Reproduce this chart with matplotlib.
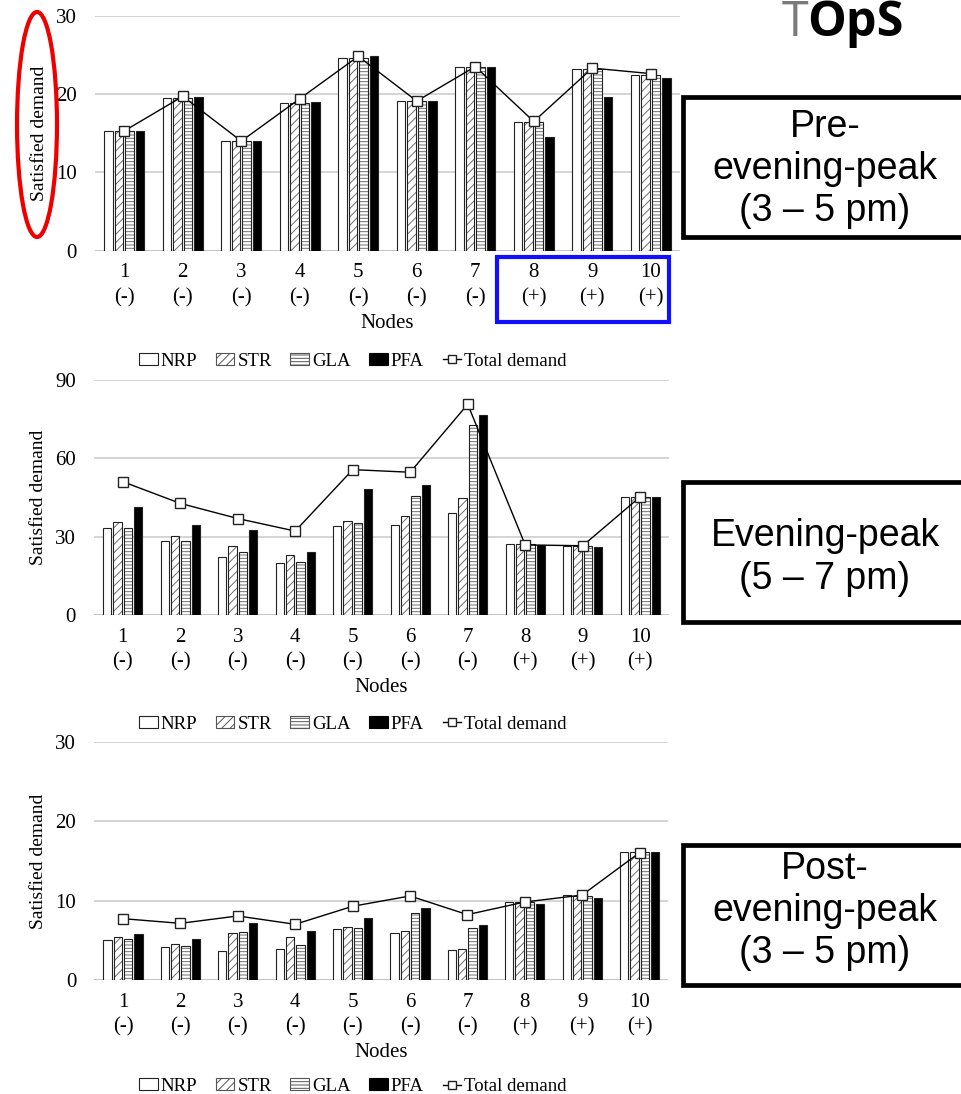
import matplotlib
matplotlib.use("Agg")
import matplotlib.pyplot as plt
import numpy as np
from matplotlib.patches import Patch, Rectangle, Ellipse
from matplotlib.lines import Line2D

plt.rcParams["font.family"] = ["Liberation Serif", "DejaVu Serif"]
plt.rcParams["hatch.linewidth"] = 0.7

NODES = ["1\n(-)", "2\n(-)", "3\n(-)", "4\n(-)", "5\n(-)",
         "6\n(-)", "7\n(-)", "8\n(+)", "9\n(+)", "10\n(+)"]
SERIES = ["NRP", "STR", "GLA", "PFA"]

# pre-evening-peak
PRE_NRP = [15.3, 19.45, 14.0, 18.8, 24.55, 19.15, 23.45, 16.4, 23.2, 22.4]
PRE_STR = [15.3, 19.45, 14.0, 18.8, 24.55, 19.15, 23.45, 16.4, 23.2, 22.4]
PRE_GLA = [15.3, 19.45, 14.0, 18.8, 24.55, 19.15, 23.45, 16.4, 23.2, 22.4]
PRE_PFA = [15.3, 19.6, 14.0, 19.0, 24.8, 19.15, 23.45, 14.55, 19.6, 22.1]
PRE_TOTAL = [15.3, 19.7, 14.0, 19.4, 24.8, 19.1, 23.5, 16.5, 23.3, 22.6]

# evening-peak
EVE_NRP = [33.2, 28.5, 22.1, 20.1, 34.1, 34.7, 39.3, 27.1, 26.6, 45.1]
EVE_STR = [35.5, 30.5, 26.6, 22.9, 36.2, 37.8, 45.0, 27.1, 26.6, 45.1]
EVE_GLA = [33.4, 28.5, 24.3, 20.3, 35.1, 45.6, 72.6, 27.1, 26.6, 45.1]
EVE_PFA = [41.4, 34.6, 32.8, 24.3, 48.2, 49.8, 76.6, 26.9, 26.2, 45.1]
EVE_TOTAL = [51.1, 42.8, 37.0, 32.2, 55.7, 54.7, 80.7, 26.9, 26.6, 45.3]

# post-evening-peak
POST_NRP = [5.04, 4.2, 3.7, 3.87, 6.43, 5.88, 3.78, 9.79, 10.71, 16.09]
POST_STR = [5.38, 4.5, 5.88, 5.38, 6.72, 6.22, 3.95, 9.79, 10.63, 16.09]
POST_GLA = [5.13, 4.29, 6.05, 4.41, 6.55, 8.4, 6.6, 9.79, 10.63, 16.09]
POST_PFA = [5.8, 5.13, 7.18, 6.13, 7.77, 9.12, 6.97, 9.58, 10.38, 16.09]
POST_TOTAL = [7.73, 7.14, 8.07, 7.02, 9.29, 10.59, 8.24, 9.83, 10.71, 16.05]

PERIODS = ["Pre-\nevening-peak\n(3 – 5 pm)", "Evening-peak\n(5 – 7 pm)",
           "Post-\nevening-peak\n(3 – 5 pm)"]

# bar looks: facecolor, hatch
STYLE = {
    "NRP": ("white", None),
    "STR": ("white", "////"),
    "GLA": ("white", "-----"),
    "PFA": ("black", None),
}

SLOT = 0.18
WIDTH = 0.145
GRID = "#d4d4d4"
FS = 15


def draw_panel(ax, bars, total, ymax, yticks):
    x = np.arange(1, len(NODES) + 1)
    for i, (name, vals) in enumerate(zip(SERIES, bars)):
        fc, hatch = STYLE[name]
        xs = x + (i - 1.5) * SLOT
        if hatch:
            # hatch in grey, outline drawn separately in near-black
            ax.bar(xs, vals, WIDTH, color=fc, hatch=hatch, edgecolor="#6e6e6e",
                   linewidth=0, zorder=2)
        ax.bar(xs, vals, WIDTH, color="none" if hatch else fc,
               edgecolor="#222222", linewidth=0.8, zorder=3)
    ax.plot(x, total, "-", color="black", linewidth=1.0, marker="s",
            markersize=7.5, markerfacecolor="white", markeredgecolor="#222222",
            markeredgewidth=1.0, zorder=4)
    ax.set_xlim(0.5, len(NODES) + 0.5)
    ax.set_ylim(0, ymax)
    ax.set_yticks(yticks)
    ax.set_xticks(x)
    ax.set_xticklabels(NODES, fontsize=FS, linespacing=1.38)
    ax.tick_params(axis="y", length=0, pad=13, labelsize=FS)
    ax.tick_params(axis="x", length=0, pad=9)
    for sp in ax.spines.values():
        sp.set_visible(False)
    ax.grid(axis="y", color=GRID, linewidth=1.4, zorder=0)
    ax.axhline(0, color="#c4c4c4", linewidth=1.4, zorder=1)
    ax.set_axisbelow(True)
    ax.set_xlabel("Nodes", fontsize=FS, labelpad=5)
    ax.set_ylabel("Satisfied demand", fontsize=14, labelpad=6)


def legend_handles():
    h = [Patch(facecolor="white", edgecolor="#222222", linewidth=0.8),
         Patch(facecolor="white", edgecolor="#555555", hatch="////", linewidth=0.8),
         Patch(facecolor="white", edgecolor="#555555", hatch="-----", linewidth=0.8),
         Patch(facecolor="black", edgecolor="black", linewidth=0.8),
         Line2D([], [], color="black", linewidth=1.0, marker="s", markersize=6,
                markerfacecolor="white", markeredgecolor="#222222")]
    return h, SERIES + ["Total demand"]


fig = plt.figure(figsize=(9.61, 10.94), dpi=100)

panels = [
    ([PRE_NRP, PRE_STR, PRE_GLA, PRE_PFA], PRE_TOTAL, 30, [0, 10, 20, 30],
     [0.0989, 0.7706, 0.6087, 0.2152], 0.6700),
    ([EVE_NRP, EVE_STR, EVE_GLA, EVE_PFA], EVE_TOTAL, 90, [0, 30, 60, 90],
     [0.0978, 0.4376, 0.5983, 0.2151], 0.3382),
    ([POST_NRP, POST_STR, POST_GLA, POST_PFA], POST_TOTAL, 30, [0, 10, 20, 30],
     [0.0981, 0.1042, 0.5973, 0.2176], 0.0068),
]

handles, labels = legend_handles()
for bars, total, ymax, yticks, rect, leg_y in panels:
    ax = fig.add_axes(rect)
    draw_panel(ax, bars, total, ymax, yticks)
    fig.legend(handles, labels, loc="center", bbox_to_anchor=(0.367, leg_y),
               ncol=5, frameon=False, fontsize=13.5, handlelength=1.0,
               handleheight=0.6, handletextpad=0.15, columnspacing=1.0,
               borderaxespad=0, borderpad=0)

# period boxes on the right, running off the edge
box_bottoms = [0.7834, 0.4314, 0.0996]
text_ys = [0.8455, 0.4904, 0.1673]
for label, yb, yt in zip(PERIODS, box_bottoms, text_ys):
    fig.patches.append(Rectangle((0.7107, yb), 0.32, 0.128, transform=fig.transFigure,
                                 facecolor="white", edgecolor="black", linewidth=3.4,
                                 zorder=5))
    fig.text(0.8585, yt, label, ha="center", va="center", fontsize=27,
             family=["Liberation Sans", "DejaVu Sans"], linespacing=1.22, zorder=6)

# highlight marks
fig.patches.append(Ellipse((0.0385, 0.8862), 0.0416, 0.2057, transform=fig.transFigure,
                           facecolor="none", edgecolor="#ee0000", linewidth=3.0, zorder=7))
fig.patches.append(Rectangle((0.5172, 0.7057), 0.179, 0.0594, transform=fig.transFigure,
                             facecolor="none", edgecolor="#1010ff", linewidth=3.0,
                             zorder=7))

# logo
fig.text(0.8135, 0.9671, "T", ha="left", va="baseline", fontsize=35,
         family="Open Sans", color="#7a7a7a")
fig.text(0.8400, 0.9671, "OpS", ha="left", va="baseline", fontsize=35,
         family="Open Sans", weight="bold", color="black")

fig.savefig("out.png", dpi=100)
